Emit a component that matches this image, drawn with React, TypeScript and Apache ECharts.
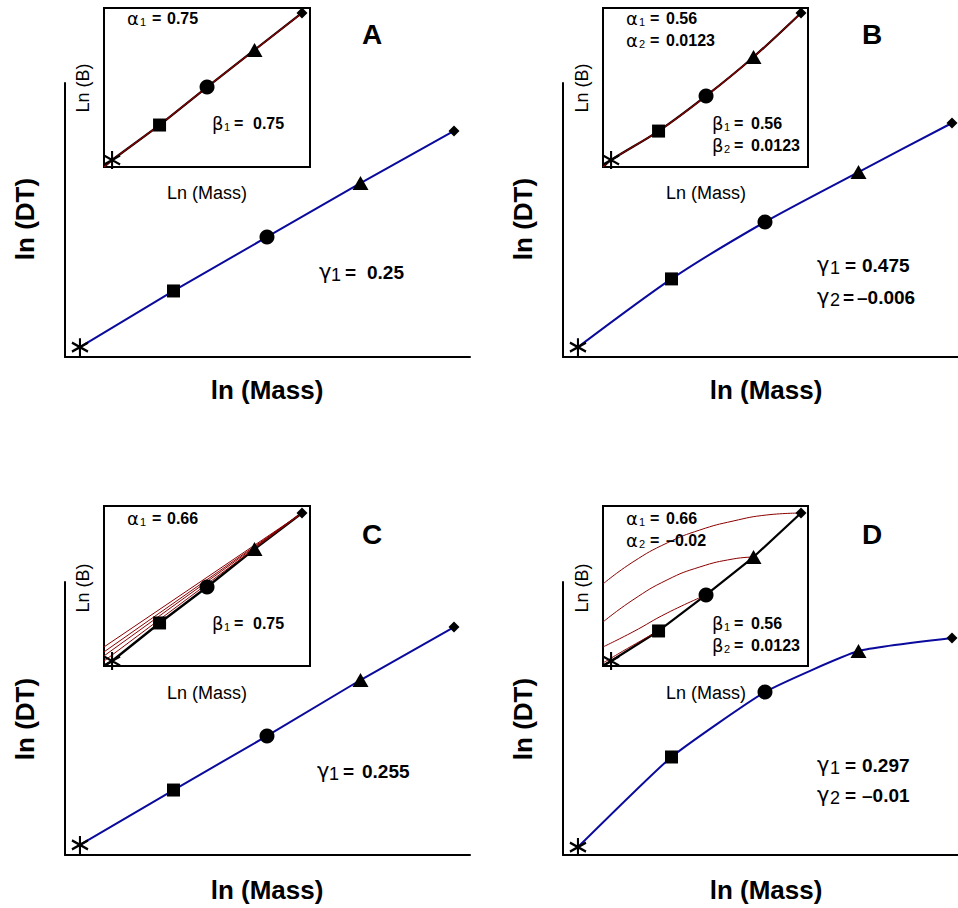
import React, { useEffect, useRef } from "react";
import * as echarts from "echarts";

// ---------- data ----------
const lnMass = [0, 1, 2, 3, 4];
// main panels: ln(DT) on a 0..10 axis
const dtA = [0.36, 2.41, 4.38, 6.35, 8.25];
const dtB = [0.36, 2.85, 4.93, 6.75, 8.54];
const dtC = [0.37, 2.38, 4.36, 6.41, 8.35];
const dtD = [0.29, 3.59, 5.97, 7.47, 7.95];
// insets: ln(B) on a 0..10 axis
const bA = [0.44, 2.64, 5.03, 7.36, 9.69];
const bB = [0.44, 2.26, 4.47, 6.92, 9.69];
const bC = [0.31, 2.69, 4.94, 7.31, 9.56];
const bD = [0.31, 2.19, 4.44, 6.81, 9.56];
// inset C: red lines, start heights at left edge, all ending at the last point
const fanC = [1.19, 0.88, 0.63, 0.31];
// inset D: red curves
const curveD1 = [[-0.17, 5.13], [0.46, 6.5], [1.18, 7.69], [1.87, 8.5], [2.57, 9.06], [3.28, 9.44], [4, 9.56]];
const curveD2 = [[-0.17, 2.75], [0.46, 4.13], [1.18, 5.38], [1.87, 6.19], [2.57, 6.69], [3, 6.81]];
const curveD3 = [[-0.17, 1.19], [0.46, 2.13], [1.18, 3.31], [2, 4.44]];
const curveD4 = [[-0.17, 0.19], [0.4, 1.19], [1, 2.19]];

const panelLetters = ["A", "B", "C", "D"];
const alphaLabels = [["0.75"], ["0.56", "0.0123"], ["0.66"], ["0.66", "\u20130.02"]];
const betaLabels = [["0.75"], ["0.56", "0.0123"], ["0.75"], ["0.56", "0.0123"]];
const gammaLabels = [["0.25"], ["0.475", "\u20130.006"], ["0.255"], ["0.297", "\u20130.01"]];

// ---------- styling ----------
const FONT = "'Liberation Sans', Arial, Helvetica, sans-serif";
const GREEK_FONT = "'DejaVu Sans', 'Liberation Sans', sans-serif";
const BLUE = "#0a0a9c";
const RED = "#8b0000";
const INSET_XMIN = -0.17;

const STAR = "path://M0,-8L0,8M-7,-4L7,4M-7,4L7,-4";
const DIAMOND = "path://M0,-1L1,0L0,1L-1,0Z";
const SYMBOLS = [STAR, "rect", "circle", "triangle", DIAMOND];
const SIZES: any[] = [[16, 18], 13, 15, [16, 14], 11];

function markers(idx: number, ys: number[]) {
  return {
    type: "scatter",
    xAxisIndex: idx,
    yAxisIndex: idx,
    z: 6,
    clip: false,
    itemStyle: { opacity: 1 },
    data: lnMass.map((x, i) => ({
      value: [x, ys[i]],
      symbol: SYMBOLS[i],
      symbolSize: SIZES[i],
      itemStyle:
        i === 0
          ? { color: "#000", borderColor: "#000", borderWidth: 2.2, opacity: 1 }
          : { color: "#000", borderWidth: 0, opacity: 1 },
    })),
  };
}

function line(idx: number, data: number[][], color: string, width: number, smooth: any, z = 3) {
  return {
    type: "line",
    xAxisIndex: idx,
    yAxisIndex: idx,
    data,
    symbol: "none",
    showSymbol: false,
    smooth,
    clip: false,
    z,
    lineStyle: { color, width },
  };
}

function t(x: number, y: number, text: string, size: number, weight = "normal", align = "left", rot = 0, family = FONT) {
  return {
    type: "text",
    x,
    y,
    rotation: rot,
    z: 20,
    style: {
      text,
      fontSize: size,
      fontWeight: weight,
      fontFamily: family,
      fill: "#000",
      align,
      verticalAlign: "middle",
    },
  };
}

function greek(g: string, sub: string, xs: number[], y: number, val: string, gs: number, ss: number, vs: number, dy: number) {
  return [
    t(xs[0], y, g, gs, "normal", "left", 0, GREEK_FONT),
    t(xs[1], y + dy, sub, ss),
    t(xs[2], y, "=", vs, "bold"),
    t(xs[3], y, val, vs, "bold"),
  ];
}

export default function App() {
  const ref = useRef<HTMLDivElement>(null);
  useEffect(() => {
    if (!ref.current) return;
    const chart = echarts.init(ref.current, undefined, { renderer: "svg" });

    const mains = [
      { left: 65, top: 83, width: 405, height: 274, xmax: 4.171 },
      { left: 563, top: 83, width: 395, height: 274, xmax: 4.064 },
      { left: 65, top: 582, width: 405, height: 273, xmax: 4.171 },
      { left: 563, top: 582, width: 395, height: 273, xmax: 4.064 },
    ];
    const insets = [
      { left: 104, top: 8, width: 206, height: 159, xmax: 4.168 },
      { left: 603, top: 8, width: 205, height: 159, xmax: 4.147 },
      { left: 104, top: 506, width: 206, height: 160, xmax: 4.168 },
      { left: 603, top: 506, width: 205, height: 160, xmax: 4.147 },
    ];

    const grid: any[] = [];
    const xAxis: any[] = [];
    const yAxis: any[] = [];
    const hidden = {
      axisTick: { show: false },
      axisLabel: { show: false },
      splitLine: { show: false },
    };
    mains.forEach((m, i) => {
      grid.push({ left: m.left, top: m.top, width: m.width, height: m.height, outerBoundsMode: "none", containLabel: false });
      xAxis.push({ type: "value", gridIndex: i, min: -0.16, max: m.xmax, axisLine: { show: true, onZero: false, lineStyle: { color: "#000", width: 2 } }, ...hidden });
      yAxis.push({ type: "value", gridIndex: i, min: 0, max: 10, axisLine: { show: true, onZero: false, lineStyle: { color: "#000", width: 2 } }, ...hidden });
    });
    insets.forEach((m, i) => {
      grid.push({ left: m.left, top: m.top, width: m.width, height: m.height, show: true, backgroundColor: "#fff", borderColor: "#000", borderWidth: 2, outerBoundsMode: "none", containLabel: false, z: 1 });
      xAxis.push({ type: "value", gridIndex: 4 + i, min: INSET_XMIN, max: m.xmax, axisLine: { show: false }, ...hidden });
      yAxis.push({ type: "value", gridIndex: 4 + i, min: 0, max: 10, axisLine: { show: false }, ...hidden });
    });

    const pts = (ys: number[]) => lnMass.map((x, i) => [x, ys[i]]);
    const fromCorner = (ys: number[]) => [[INSET_XMIN, 0], ...pts(ys)];

    const series: any[] = [
      // main panels
      line(0, pts(dtA), BLUE, 2, false),
      markers(0, dtA),
      line(1, pts(dtB), BLUE, 2, 0.25),
      markers(1, dtB),
      line(2, pts(dtC), BLUE, 2, false),
      markers(2, dtC),
      line(3, pts(dtD), BLUE, 2, 0.15),
      markers(3, dtD),
      // inset A
      line(4, fromCorner(bA), "#000", 2.2, false),
      line(4, fromCorner(bA), RED, 1.2, false, 4),
      markers(4, bA),
      // inset B
      line(5, fromCorner(bB), "#000", 2.2, 0.3),
      line(5, fromCorner(bB), RED, 1.2, 0.3, 4),
      markers(5, bB),
      // inset C
      line(6, fromCorner(bC), "#000", 2.4, false),
      ...fanC.map((v) => line(6, [[INSET_XMIN, v], [4, bC[4]]], RED, 1, false, 4)),
      markers(6, bC),
      // inset D
      line(7, fromCorner(bD), "#000", 2.2, false),
      ...[curveD1, curveD2, curveD3, curveD4].map((c) => line(7, c, RED, 1, true, 4)),
      markers(7, bD),
    ];

    const graphics: any[] = [];
    const ox = [0, 498, 0, 498];
    const oy = [0, 0, 500, 500];
    for (let p = 0; p < 4; p++) {
      const dx = ox[p];
      const dy = oy[p];
      // main axis titles
      graphics.push(t(25 + dx, 219 + dy, "ln (DT)", 26, "bold", "center", Math.PI / 2));
      graphics.push(t(267 + (p % 2 ? 499 : 0), 390 + dy, "ln (Mass)", 26, "bold", "center"));
      // panel letter
      graphics.push(t(372 + dx + (p % 2 ? 2 : 0), 34 + dy, panelLetters[p], 28, "bold", "center"));
      // inset titles
      graphics.push(t(83 + dx + (p % 2 ? 1 : 0), 88 + dy, "Ln (B)", 18, "normal", "center", Math.PI / 2));
      graphics.push(t(207 + dx + (p % 2 ? 1 : 0), 193 + dy, "Ln (Mass)", 18, "normal", "center"));
      // alpha / beta
      const wide = p % 2 === 0;
      const aX = wide ? [127, 140, 152, 167] : [626, 639, 650, 666];
      alphaLabels[p].forEach((v, k) => {
        graphics.push(...greek("\u03b1", String(k + 1), aX, 18 + 22 * k + dy, v, 18, 11, 16, 4));
      });
      const bX = wide ? [212, 224, 234, 253] : [712, 724, 734, 751];
      betaLabels[p].forEach((v, k) => {
        graphics.push(...greek("\u03b2", String(k + 1), bX, 123 + 22 * k + dy, v, 18, 11, 16, 4));
      });
      // gamma
      const gX = p === 0 ? [319, 331, 345, 367] : p === 2 ? [317, 329, 343, 362] : [817, 830, 845, 862];
      const gY = p === 0 ? 272 : p === 1 ? 265 : p === 2 ? 771 : 765;
      gammaLabels[p].forEach((v, k) => {
        const xs = p === 1 && k === 1 ? [817, 830, 843, 857] : gX;
        graphics.push(...greek("\u03b3", String(k + 1), xs, gY + (p === 3 ? 30 : 32) * k, v, 21, 18, 19, 3));
      });
    }

    chart.setOption({
      animation: false,
      backgroundColor: "#fff",
      grid,
      xAxis,
      yAxis,
      series,
      graphic: graphics,
    });
    return () => chart.dispose();
  }, []);

  return (
    <div
      ref={ref}
      style={{ position: "absolute", left: 0, top: 0, width: 958, height: 908, background: "#fff" }}
    />
  );
}
